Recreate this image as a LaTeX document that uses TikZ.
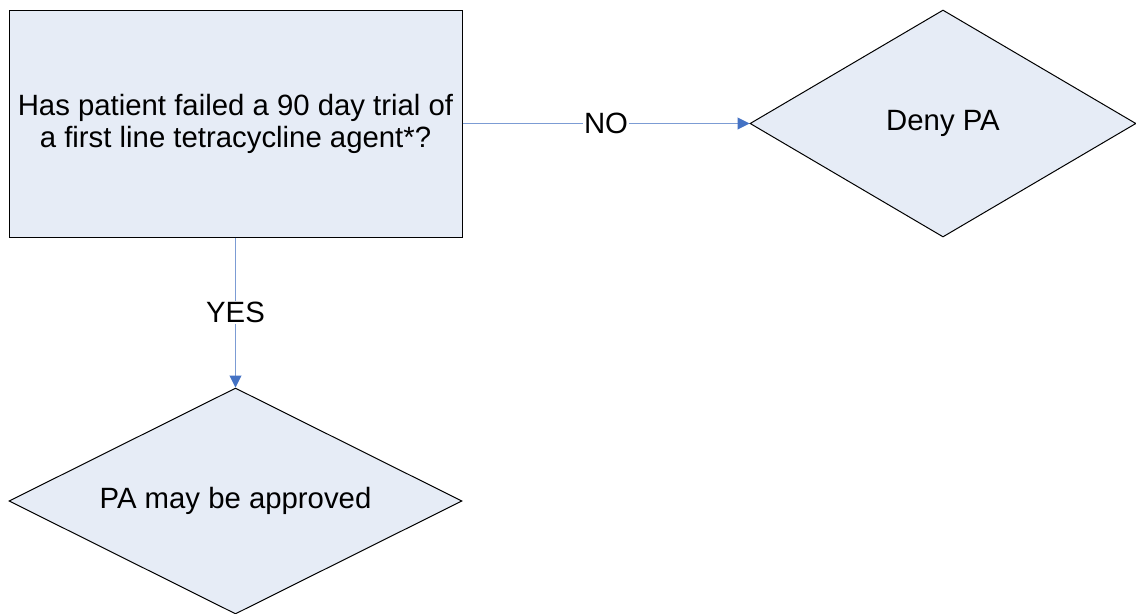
\documentclass[tikz,border=0pt]{standalone}
\usepackage{fontspec}
\setmainfont{Liberation Sans}
\usetikzlibrary{arrows.meta}
\usetikzlibrary{positioning}
\usetikzlibrary{shapes.geometric}
\definecolor{boxfill}{HTML}{E6ECF6}
\definecolor{linkline}{HTML}{7C9CD4}
\definecolor{linktip}{HTML}{4472C4}

\tikzset{
  question/.style={draw=black, fill=boxfill, line width=0.75pt, minimum width=339.75pt,
    minimum height=170.25pt, align=center, font=\fontsize{22}{24}\selectfont},
  outcome/.style={diamond, draw=black, fill=boxfill, line width=0.75pt, inner sep=0pt,
    aspect=2, font=\fontsize{22}{24}\selectfont},
  link/.style={draw=linkline, line width=0.75pt, -{Triangle[length=9pt,width=9pt,color=linktip]}},
  answer/.style={fill=white, inner sep=1pt, font=\fontsize{22}{24}\selectfont},
}

\begin{document}
\begin{tikzpicture}[x=0.75pt,y=-0.75pt]
    \useasboundingbox (0,0) rectangle (1136,614);
    \node[question] (trial) at (235.5,123.5) {Has patient failed a 90 day trial of\\a first line tetracycline agent*?};
    \node[outcome, minimum width=289.5pt, minimum height=170.25pt] (deny) at (943,123.5) {Deny PA};
    \node[outcome, minimum width=339.75pt, minimum height=169.5pt] (approve) at (235.5,501) {PA may be approved};

    \draw[link] (trial.east) -- node[answer] (no) {NO} (deny.west);
    \draw[link] (trial.south) -- node[answer] (yes) {YES} (approve.north);
\end{tikzpicture}
\end{document}
